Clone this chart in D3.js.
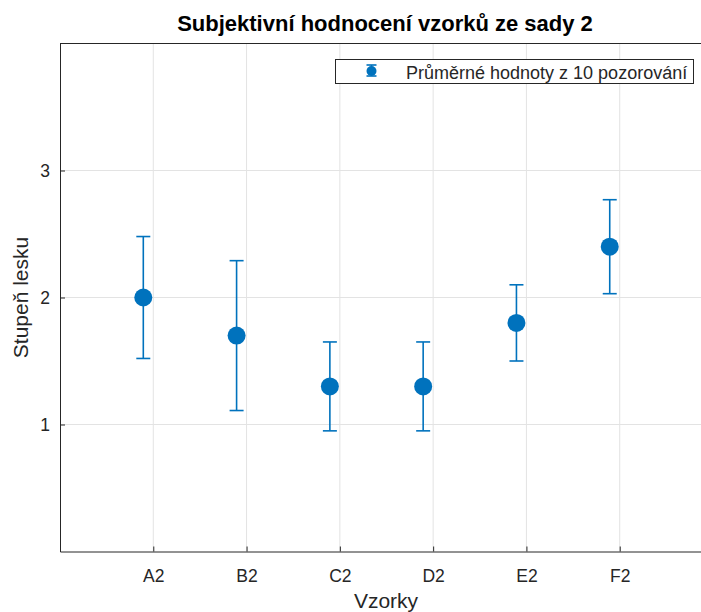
<!DOCTYPE html>
<html>
<head>
<meta charset="utf-8">
<script src="https://cdn.jsdelivr.net/npm/d3@7"></script>
<style>
  body { margin: 0; background: #fff; }
  svg { display: block; font-family: "Liberation Sans", Arial, sans-serif; }
</style>
</head>
<body>
<svg id="chart" width="701" height="612"></svg>
<script>
// data
const samples = ["A2", "B2", "C2", "D2", "E2", "F2"];
const means = [2.0, 1.7, 1.3, 1.3, 1.8, 2.4];
const errs = [0.48, 0.59, 0.35, 0.35, 0.30, 0.37];
const yTicks = [1, 2, 3];
const title = "Subjektivní hodnocení vzorků ze sady 2";
const legendLabel = "Průměrné hodnoty z 10 pozorování";

const blue = "#0072BD";
const axisCol = "#262626";

const svg = d3.select("#chart");

// plot box (right edge runs past the window, as in the reference)
const box = { left: 60, top: 43.5, right: 713, bottom: 551.5 };

const x = d3.scaleLinear().domain([0, samples.length + 1]).range([box.left, box.right]);
const y = d3.scaleLinear().domain([0, 4]).range([box.bottom, box.top]);
const markerShift = -0.107; // points sit a bit left of their tick

const data = samples.map((s, i) => ({ name: s, pos: i + 1, mean: means[i], err: errs[i] }));

// grid
const grid = svg.append("g").attr("stroke", "#e3e3e3").attr("stroke-width", 1);
grid.selectAll(".gx").data(data).join("line")
  .attr("x1", d => x(d.pos)).attr("x2", d => x(d.pos))
  .attr("y1", box.top).attr("y2", box.bottom);
grid.selectAll(".gy").data(yTicks).join("line")
  .attr("x1", box.left).attr("x2", box.right)
  .attr("y1", d => y(d)).attr("y2", d => y(d));

// axes
const xAxis = d3.axisBottom(x).tickValues(data.map(d => d.pos))
  .tickFormat((d, i) => samples[i]).tickSizeInner(-5).tickSizeOuter(0).tickPadding(18);
const gx = svg.append("g").attr("transform", `translate(0,${box.bottom})`).call(xAxis);

const yAxis = d3.axisLeft(y).tickValues(yTicks).tickFormat(d3.format("d"))
  .tickSizeInner(-5).tickSizeOuter(0).tickPadding(10);
const gy = svg.append("g").attr("transform", `translate(${box.left},0)`).call(yAxis);

[gx, gy].forEach(g => {
  g.select(".domain").attr("stroke", axisCol);
  g.selectAll(".tick line").attr("stroke", axisCol);
  g.selectAll(".tick text").attr("fill", axisCol).style("font-size", "17.5px")
    .style("font-family", "'Liberation Sans', Arial, sans-serif");
});

// top border
svg.append("line").attr("x1", box.left).attr("x2", box.right)
  .attr("y1", box.top).attr("y2", box.top).attr("stroke", axisCol);

// error bars
const eb = svg.append("g").attr("stroke", blue).attr("stroke-width", 1.6);
const capW = 7;
eb.selectAll(".v").data(data).join("line")
  .attr("x1", d => x(d.pos + markerShift)).attr("x2", d => x(d.pos + markerShift))
  .attr("y1", d => y(d.mean + d.err)).attr("y2", d => y(d.mean - d.err));
eb.selectAll(".t").data(data).join("line")
  .attr("x1", d => x(d.pos + markerShift) - capW).attr("x2", d => x(d.pos + markerShift) + capW)
  .attr("y1", d => y(d.mean + d.err)).attr("y2", d => y(d.mean + d.err));
eb.selectAll(".b").data(data).join("line")
  .attr("x1", d => x(d.pos + markerShift) - capW).attr("x2", d => x(d.pos + markerShift) + capW)
  .attr("y1", d => y(d.mean - d.err)).attr("y2", d => y(d.mean - d.err));

svg.append("g").selectAll("circle").data(data).join("circle")
  .attr("cx", d => x(d.pos + markerShift)).attr("cy", d => y(d.mean))
  .attr("r", 9).attr("fill", blue);

// title & axis labels
svg.append("text").attr("x", 385).attr("y", 31).attr("text-anchor", "middle")
  .style("font-size", "22px").style("font-weight", "bold").attr("fill", "#000")
  .text(title);
svg.append("text").attr("x", 386).attr("y", 608).attr("text-anchor", "middle")
  .style("font-size", "21px").attr("fill", axisCol).text("Vzorky");
svg.append("text").attr("transform", `translate(28,${y(2)}) rotate(-90)`)
  .attr("text-anchor", "middle").style("font-size", "21px").attr("fill", axisCol)
  .text("Stupeň lesku");

// legend
const lg = svg.append("g");
lg.append("rect").attr("x", 335.5).attr("y", 59.5).attr("width", 358).attr("height", 24)
  .attr("fill", "#fff").attr("stroke", axisCol).attr("stroke-width", 1);
const lx = 371.5, ly = 71;
lg.append("line").attr("x1", lx).attr("x2", lx).attr("y1", ly - 6).attr("y2", ly + 5)
  .attr("stroke", blue).attr("stroke-width", 1.6);
lg.append("line").attr("x1", lx - 5).attr("x2", lx + 5).attr("y1", ly - 6).attr("y2", ly - 6)
  .attr("stroke", blue).attr("stroke-width", 1.6);
lg.append("line").attr("x1", lx - 5).attr("x2", lx + 5).attr("y1", ly + 5).attr("y2", ly + 5)
  .attr("stroke", blue).attr("stroke-width", 1.6);
lg.append("circle").attr("cx", lx).attr("cy", ly).attr("r", 5).attr("fill", blue);
lg.append("text").attr("x", 406).attr("y", 79).style("font-size", "18px").attr("fill", axisCol)
  .text(legendLabel);
</script>
</body>
</html>
